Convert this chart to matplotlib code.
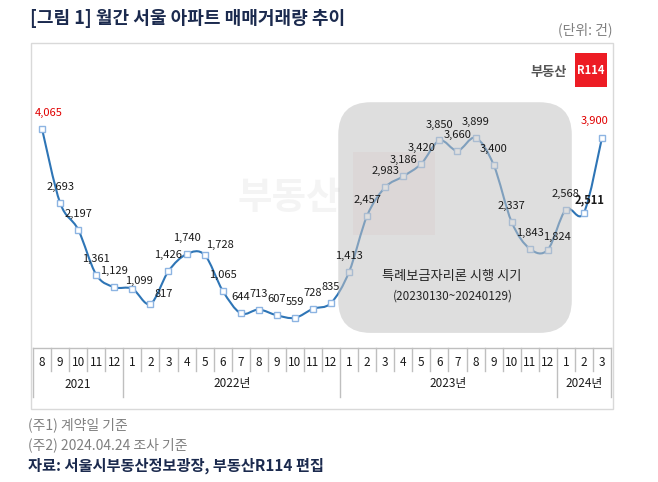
import numpy as np
import matplotlib
matplotlib.use('Agg')
import matplotlib.pyplot as plt
from matplotlib.path import Path
from matplotlib.patches import PathPatch, FancyBboxPatch, Rectangle

plt.rcParams['font.family'] = ['Noto Sans CJK KR', 'DejaVu Sans']

# ---- data (monthly Seoul apartment sales, 2021.08 ~ 2024.03) ----
months = ['8', '9', '10', '11', '12'] + [str(m) for m in range(1, 13)] * 2 + ['1', '2', '3']
years = ['2021', '2022년', '2023년', '2024년']
year_len = [5, 12, 12, 3]
volume = [4065, 2693, 2197, 1361, 1129,
          1099, 817, 1426, 1740, 1728, 1065, 644, 713, 607, 559, 728, 835,
          1413, 2457, 2983, 3186, 3420, 3850, 3660, 3899, 3400, 2337, 1843, 1824,
          2568, 2511, 3900]
loan_start = 17   # 2023-01
loan_end = 29     # 2024-01

# label nudges in pixels (right, up); everything else sits straight above
label_shift = {0: (7, 16), 5: (7, 8), 6: (13, 10), 9: (15, 10),
               28: (9, 13), 30: (6, 13), 31: (-7, 17)}

W, H = 658, 482
fig = plt.figure(figsize=(W / 100, H / 100), dpi=100)


def fx(x):
    return x / W


def fy(y):
    return 1 - y / H


LINE = '#2e75b6'
GRID = '#bfbfbf'

# outer frame
fig.patches.append(Rectangle((fx(31), fy(409)), (613 - 31) / W, (409 - 43) / H,
                             transform=fig.transFigure, fill=False,
                             ec='#d9d9d9', lw=1))

fig.text(fx(30), fy(19), '[그림 1] 월간 서울 아파트 매매거래량 추이', fontsize=13,
         weight='bold', color='#1b2a4e', va='center')
fig.text(fx(613), fy(30), '(단위: 건)', fontsize=10, color='#808080',
         ha='right', va='center')

# logo
fig.text(fx(549), fy(72), '부동산', fontsize=9.5, weight='bold', color='#555555',
         ha='center', va='center')
fig.patches.append(Rectangle((fx(575), fy(87)), 32 / W, 34 / H,
                             transform=fig.transFigure, color='#ed1c24', lw=0))
fig.text(fx(591), fy(70), 'R114', fontsize=8, weight='bold', color='white',
         ha='center', va='center')

# main plot area
ax = fig.add_axes([fx(33), fy(348), (611 - 33) / W, (348 - 55) / H])
ax.set_xlim(-0.5, len(volume) - 0.5)
ax.set_ylim(0, 5436)
ax.axis('off')
ax.patch.set_alpha(0)

# watermark, drawn under everything in the plot
ax.text(fx(289), fy(198), '부동산', fontsize=27, weight='bold', color='#f4f4f4',
        ha='center', va='center', transform=fig.transFigure, zorder=0.5)
ax.add_patch(Rectangle((fx(353), fy(235)), 82 / W, 83 / H,
                       transform=fig.transFigure, color='#fcf0f0', lw=0,
                       zorder=0.5))

x = np.arange(len(volume))
y = np.array(volume, dtype=float)

# smoothed line (bezier through each point, like excel's smoothed line)
pts = np.column_stack([x, y])
verts = [pts[0]]
codes = [Path.MOVETO]
n = len(pts)
for i in range(n - 1):
    p0 = pts[max(i - 1, 0)]
    p1 = pts[i]
    p2 = pts[i + 1]
    p3 = pts[min(i + 2, n - 1)]
    verts += [p1 + (p2 - p0) / 6, p2 - (p3 - p1) / 6, p2]
    codes += [Path.CURVE4] * 3
ax.add_patch(PathPatch(Path(verts, codes), fill=False, ec=LINE, lw=1.5, zorder=2))
ax.plot(x, y, ls='none', marker='s', ms=5, mfc='white', mec='#8db4e2',
        mew=1, zorder=3)

# shaded period of the special bogeumjari loan
px_x = 578 / len(volume)
px_y = 0.0539
ax.add_patch(FancyBboxPatch((loan_start - 0.6, 280),
                            (loan_end - loan_start) + 0.93, 4280,
                            boxstyle='round,pad=0,rounding_size=1.8',
                            mutation_aspect=px_x / px_y,
                            fc='#c3c3c3', ec='none', alpha=0.55, zorder=4))
ax.text((loan_start + loan_end) / 2 - 0.3, 72 / px_y, '특례보금자리론 시행 시기',
        fontsize=9.5, color='#262626', ha='center', va='center', zorder=5)
ax.text((loan_start + loan_end) / 2 - 0.25, 52 / px_y, '(20230130~20240129)',
        fontsize=8.5, color='#262626', ha='center', va='center', zorder=5)

for i, v in enumerate(volume):
    dx, dy = label_shift.get(i, (0, 16))
    red = i in (0, len(volume) - 1)
    ax.annotate(f'{v:,}', (i, v), xytext=(dx * 0.72, dy * 0.72),
                textcoords='offset points', ha='center', va='center',
                fontsize=8, color='#e00000' if red else '#1a1a1a',
                weight='bold' if i == 30 else 500, zorder=6)

# category table under the plot
axt = fig.add_axes([fx(33), fy(397), 578 / W, 49 / H])
axt.set_xlim(-0.5, len(volume) - 0.5)
axt.set_ylim(49, 0)
axt.axis('off')
axt.plot([-0.5, len(volume) - 0.5], [0, 0], color=GRID, lw=1, clip_on=False)
year_edges = np.cumsum([0] + year_len) - 0.5
for b in np.arange(len(volume) + 1) - 0.5:
    bottom = 49 if b in year_edges else 23
    axt.plot([b, b], [0, bottom], color=GRID, lw=1, clip_on=False)
for i, m in enumerate(months):
    axt.text(i, 14, m, fontsize=8.5, ha='center', va='center', color='#1a1a1a')
start = 0
for yr, ln in zip(years, year_len):
    axt.text(start + ln / 2 - 0.5, 36, yr, fontsize=8.5, ha='center',
             va='center', color='#1a1a1a')
    start += ln

# notes
fig.text(fx(28), fy(425), '(주1) 계약일 기준', fontsize=10, color='#808080', va='center')
fig.text(fx(28), fy(445), '(주2) 2024.04.24 조사 기준', fontsize=10, color='#808080',
         va='center')
fig.text(fx(28), fy(466), '자료: 서울시부동산정보광장, 부동산R114 편집', fontsize=11,
         weight='bold', color='#1b2a4e', va='center')

fig.savefig('out.png', dpi=100)
